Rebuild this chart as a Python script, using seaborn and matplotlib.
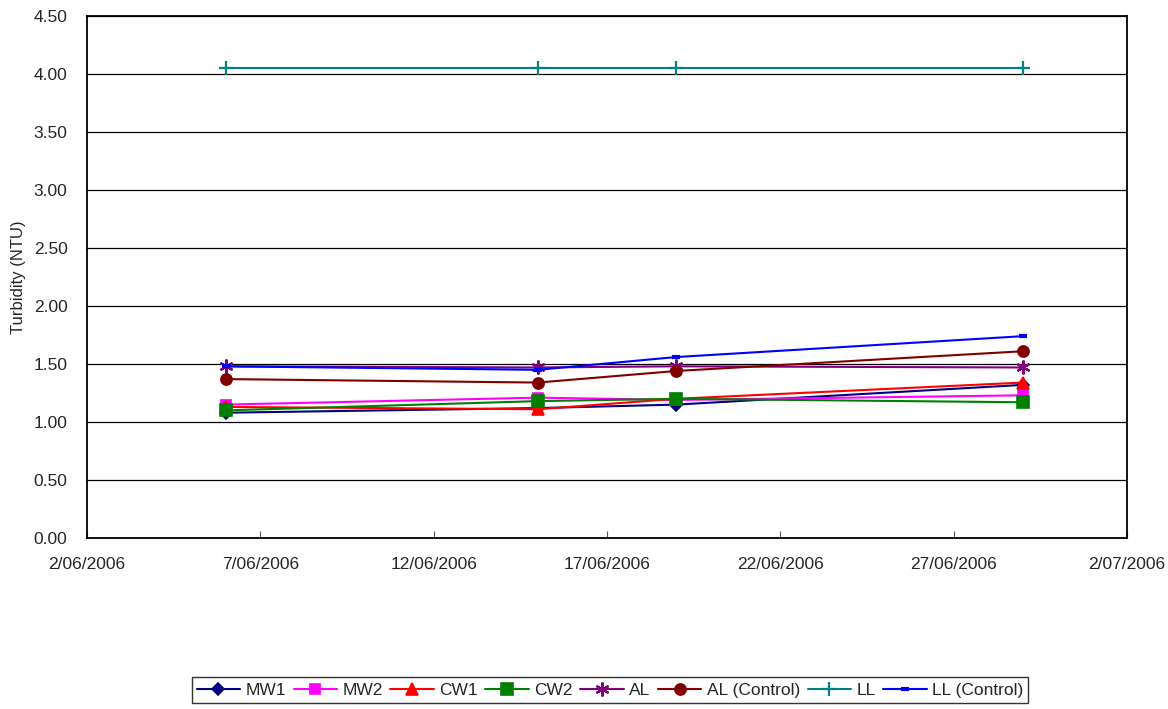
import pandas as pd
import matplotlib.pyplot as plt
import matplotlib.dates as mdates
import seaborn as sns

# sampling dates
dates = ["2006-06-06", "2006-06-15", "2006-06-19", "2006-06-29"]

# turbidity (NTU) per site
mw1 = [1.08, 1.12, 1.15, 1.32]
mw2 = [1.15, 1.21, 1.19, 1.23]
cw1 = [1.13, 1.11, 1.20, 1.34]
cw2 = [1.10, 1.18, 1.20, 1.17]
al = [1.48, 1.47, 1.48, 1.47]
al_control = [1.37, 1.34, 1.44, 1.61]
ll = [4.05, 4.05, 4.05, 4.05]
ll_control = [1.48, 1.45, 1.56, 1.74]

series_names = ["MW1", "MW2", "CW1", "CW2", "AL", "AL (Control)", "LL", "LL (Control)"]
series_values = [mw1, mw2, cw1, cw2, al, al_control, ll, ll_control]

y_ticks = [0.0, 0.5, 1.0, 1.5, 2.0, 2.5, 3.0, 3.5, 4.0, 4.5]

styles = {
    "MW1": dict(color="#000080", marker="D", ms=6, mew=1.2),
    "MW2": dict(color="#FF00FF", marker="s", ms=7, mew=1.2),
    "CW1": dict(color="#FF0000", marker="^", ms=8, mew=1.2),
    "CW2": dict(color="#008000", marker="s", ms=8, mew=1.2),
    "AL": dict(color="#800080", marker=(6, 2, 0), ms=10, mew=1.6),
    "AL (Control)": dict(color="#800000", marker="o", ms=8, mew=1.2),
    "LL": dict(color="#008080", marker="+", ms=10, mew=1.6),
    "LL (Control)": dict(color="#0000FF", marker="_", ms=6, mew=3.0),
}

sns.set_theme(style="white")
plt.rcParams['font.family'] = ['Liberation Sans', 'DejaVu Sans']

fig, ax = plt.subplots(figsize=(11.68, 7.09), dpi=100)
fig.subplots_adjust(left=87/1168, right=1127/1168, top=1-16/709, bottom=1-538/709)

x = pd.to_datetime(dates)
for name, vals in zip(series_names, series_values):
    st = styles[name]
    sns.lineplot(x=x, y=vals, ax=ax, color=st["color"], marker=st["marker"],
                 markersize=st["ms"], markeredgewidth=st["mew"], markeredgecolor=st["color"],
                 linewidth=1.5, label=name)

ax.set_xlim(pd.Timestamp("2006-06-02"), pd.Timestamp("2006-07-02"))
ax.set_ylim(0, 4.5)
ax.set_yticks(y_ticks)
ax.set_yticklabels([f"{v:.2f}" for v in y_ticks])
ax.xaxis.set_major_locator(mdates.DayLocator(bymonthday=[2, 7, 12, 17, 22, 27]))
ax.xaxis.set_major_formatter(mdates.DateFormatter("%-d/%m/%Y"))

ax.yaxis.grid(True, color="black", linewidth=0.9)
ax.xaxis.grid(False)
ax.set_axisbelow(True)
for sp in ax.spines.values():
    sp.set_color("black")
    sp.set_linewidth(1.3)

ax.tick_params(axis="x", direction="in", length=5, width=0.8, color="#555555",
               labelsize=12.5, pad=14, bottom=True)
ax.tick_params(axis="y", length=0, labelsize=12.5, pad=14)
ax.set_xlabel("")
ax.set_ylabel("Turbidity (NTU)", fontsize=12)
ax.yaxis.set_label_coords(-0.059, 0.5)

ax.legend(loc="center", bbox_to_anchor=(610/1168, 1-690/709), bbox_transform=fig.transFigure,
          ncol=8, fontsize=12.5, frameon=True, fancybox=False, edgecolor="black",
          handlelength=2.5, handletextpad=0.3, columnspacing=0.45, borderpad=0.3)
leg = ax.get_legend()
leg.get_frame().set_linewidth(1.0)

plt.savefig("out.png", dpi=100)
